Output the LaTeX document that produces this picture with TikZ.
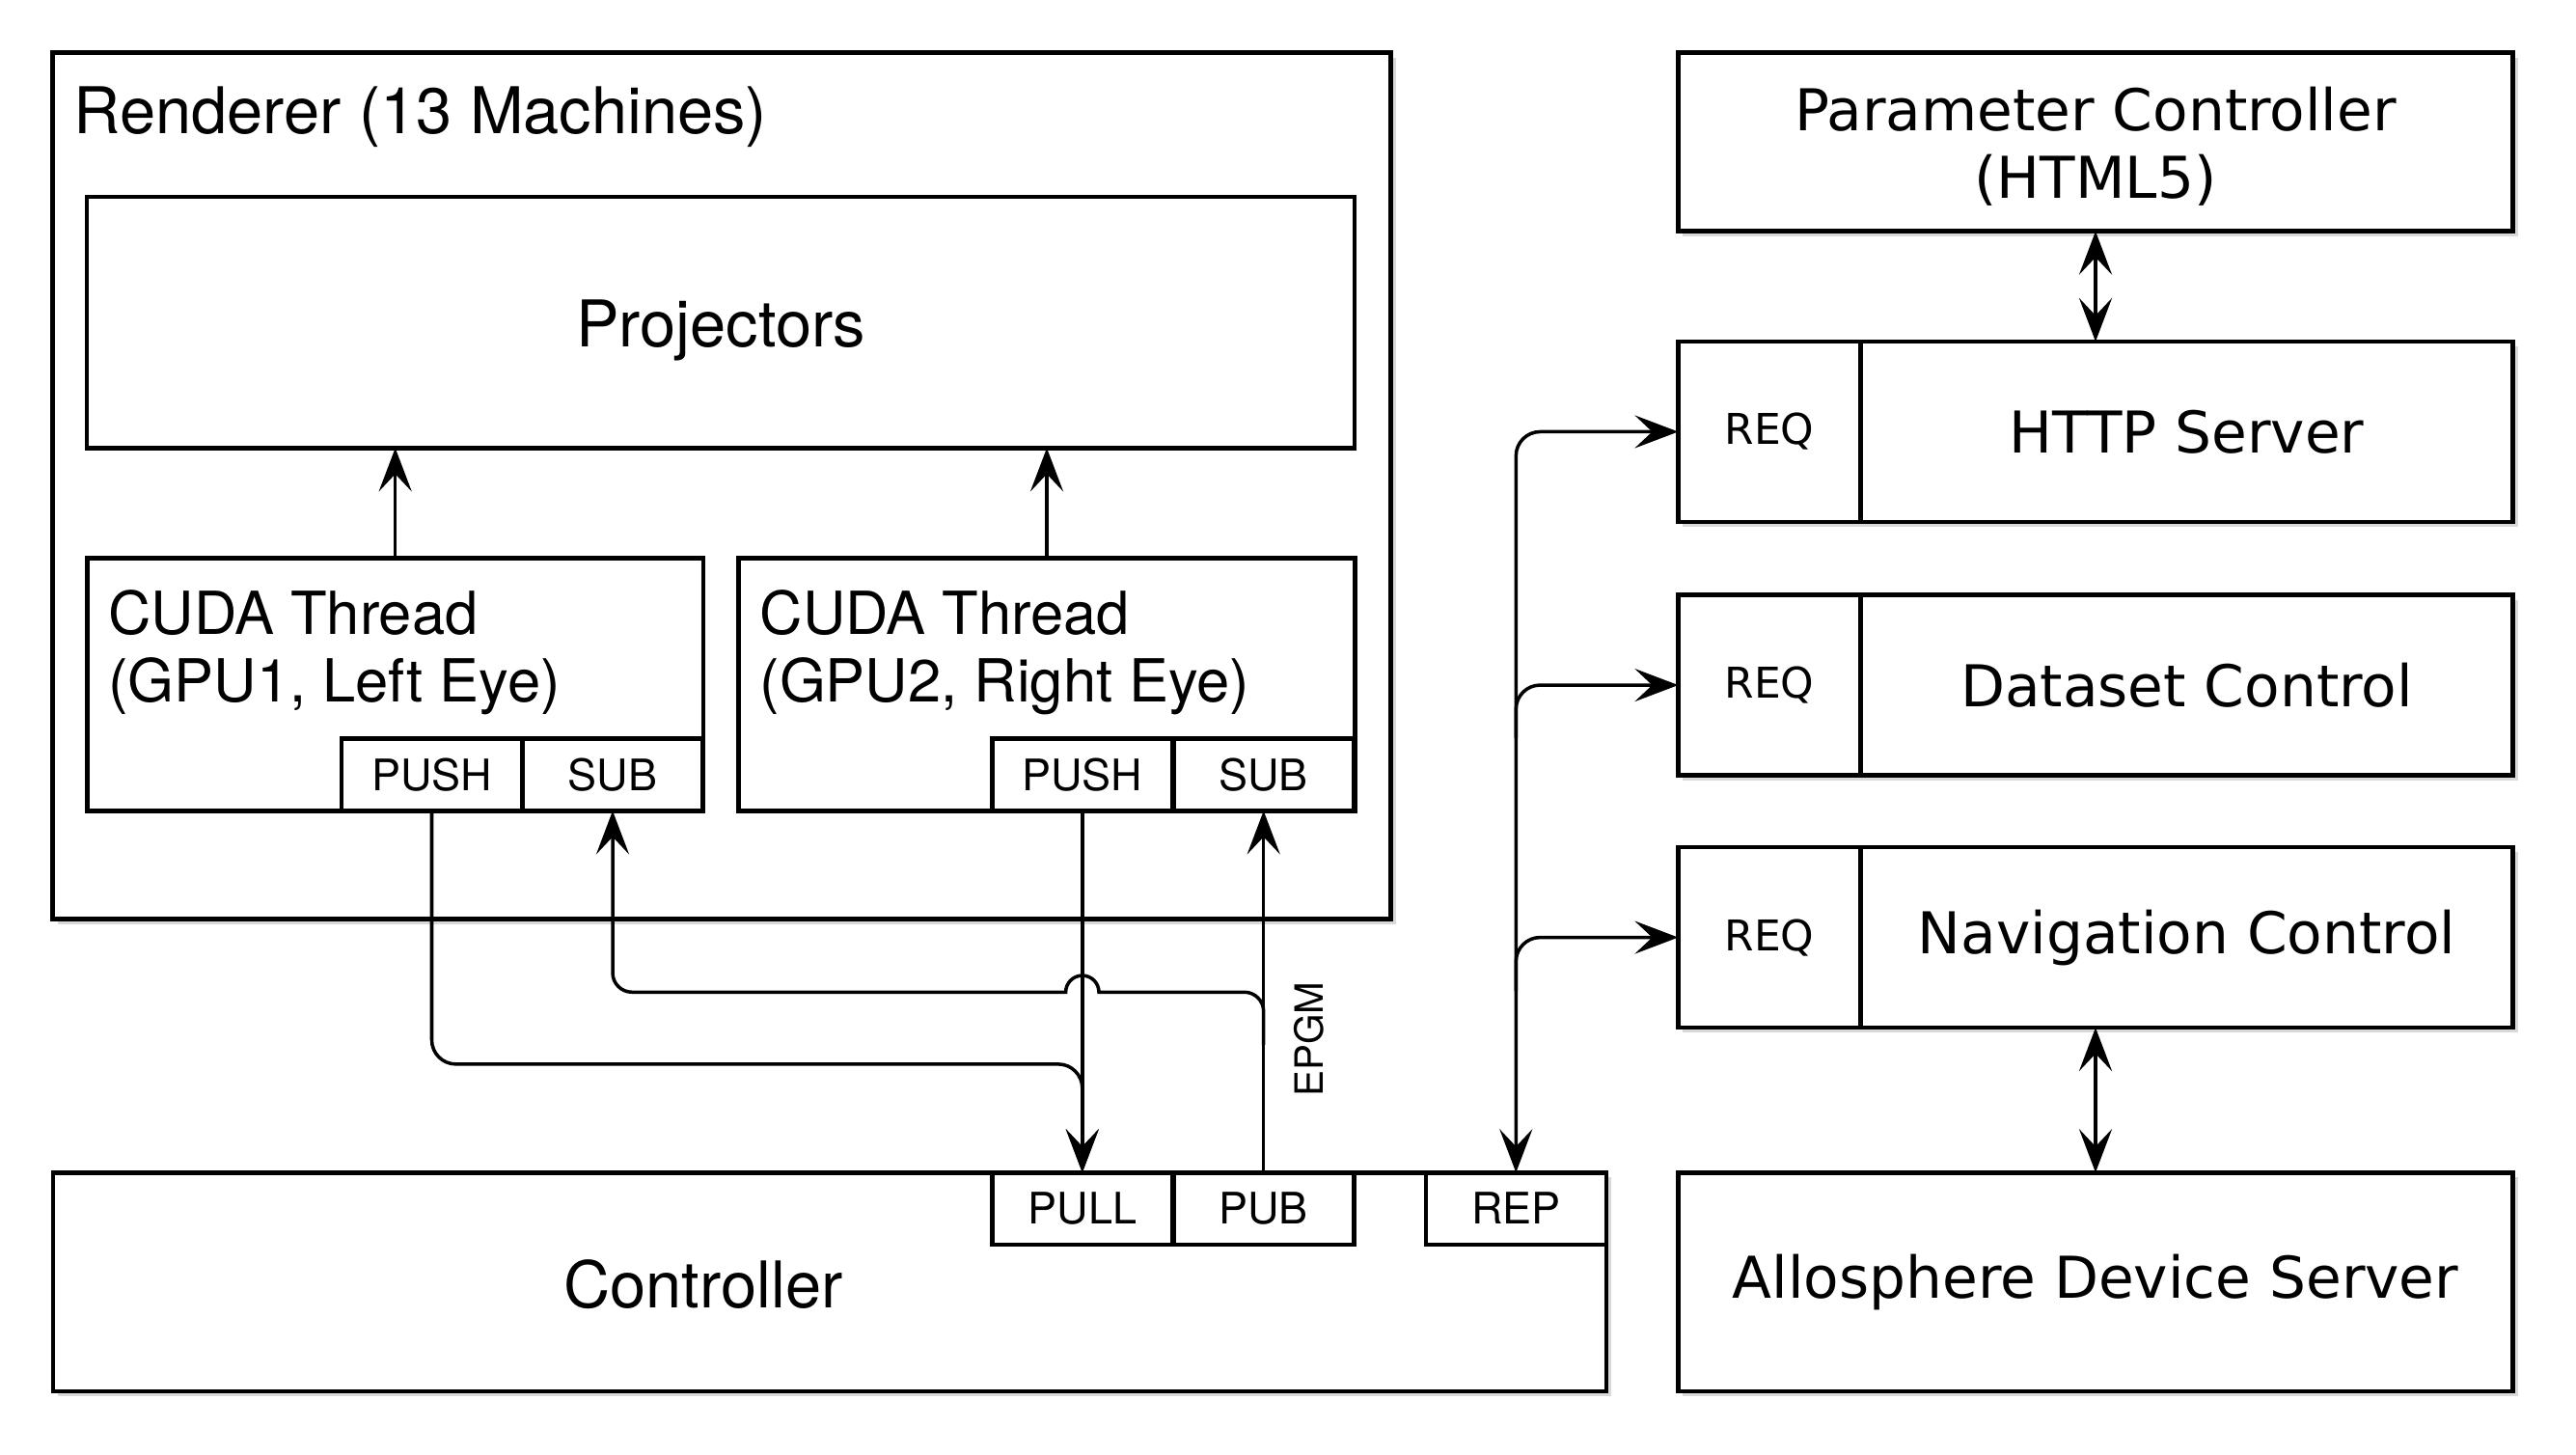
\documentclass[tikz,border=0pt]{standalone}
\usepackage{fontspec}
\setmainfont{TeX Gyre Heros}
\newfontfamily\lucida{DejaVu Sans}
\usetikzlibrary{arrows.meta,shadows}

\begin{document}
\begin{tikzpicture}[>={Stealth[length=0.45cm,width=0.34cm,inset=0.18cm]},
  every node/.style={inner sep=0pt, outer sep=0pt},
  box/.style={draw, rectangle, line width=1.3pt, fill=white},
  shbox/.style={box, drop shadow={shadow xshift=0.05cm, shadow yshift=-0.05cm, opacity=0.3}},
  port/.style={box, minimum width=1.87cm, minimum height=0.746cm, font=\fontsize{12.8}{14}\selectfont},
  req/.style={shbox, minimum width=1.889cm, minimum height=1.87cm, font=\lucida\fontsize{12.5}{14}\selectfont},
  big/.style={font=\fontsize{19}{20}\selectfont},
  mid/.style={font=\fontsize{17.5}{20}\selectfont, align=left, anchor=west},
  rbig/.style={font=\lucida\fontsize{17}{20}\selectfont, align=center},
  link/.style={line width=1pt}]
\useasboundingbox (0,0) rectangle (26.70,15.08);

\node[shbox, minimum width=13.87cm, minimum height=8.98cm] (ren) at (7.48,10.043) {};
\node[big, anchor=west] (renlbl) at (0.766,13.87) {Renderer (13 Machines)};
\node[box, minimum width=13.14cm, minimum height=2.605cm] (proj) at (7.471,11.739) {};
\node[big] (projlbl) at (7.471,11.66) {Projectors};
\node[box, minimum width=6.385cm, minimum height=2.616cm] (cudaA) at (4.097,7.984) {};
\node[box, minimum width=6.385cm, minimum height=2.616cm] (cudaB) at (10.85,7.984) {};
\node[mid] (cudaAlbl) at (1.124,8.317) {CUDA Thread\\(GPU1, Left Eye)};
\node[mid] (cudaBlbl) at (7.876,8.317) {CUDA Thread\\(GPU2, Right Eye)};
\node[port] (pushA) at (4.475,7.049) {PUSH};
\node[port] (subA) at (6.35,7.049) {SUB};
\node[port] (pushB) at (11.218,7.049) {PUSH};
\node[port] (subB) at (13.097,7.049) {SUB};

\node[shbox, minimum width=16.10cm, minimum height=2.267cm] (ctrl) at (8.598,1.794) {};
\node[big] (ctrllbl) at (7.29,1.77) {Controller};
\node[port] (pull) at (11.218,2.554) {PULL};
\node[port] (pub) at (13.097,2.554) {PUB};
\node[port] (rep) at (15.713,2.554) {REP};

\node[shbox, minimum width=8.652cm, minimum height=1.85cm] (param) at (21.72,13.608) {};
\node[rbig] (paramlbl) at (21.72,13.56) {Parameter Controller\\(HTML5)};
\node[req] (reqA) at (18.339,10.605) {REQ};
\node[shbox, rbig, minimum width=6.763cm, minimum height=1.87cm] (http) at (22.665,10.605) {HTTP Server};
\node[req] (reqB) at (18.339,7.979) {REQ};
\node[shbox, rbig, minimum width=6.763cm, minimum height=1.87cm] (data) at (22.665,7.979) {Dataset Control};
\node[req] (reqC) at (18.339,5.364) {REQ};
\node[shbox, rbig, minimum width=6.763cm, minimum height=1.87cm] (nav) at (22.665,5.364) {Navigation Control};
\node[shbox, rbig, minimum width=8.652cm, minimum height=2.267cm] (allo) at (21.72,1.794) {Allosphere Device Server};

\coordinate (pullbend) at (11.218,4.051);
\coordinate (subbend) at (13.097,4.25);
\coordinate (subturn) at (13.097,4.597);
\coordinate (hopR) at (11.39,4.797);
\coordinate (subleft) at (6.55,4.797);
\coordinate (repB) at (15.713,7.43);
\coordinate (repC) at (15.713,4.81);

\draw[link,->] (cudaA.north) -- (cudaA.north |- proj.south);
\draw[link,->] (cudaB.north) -- (cudaB.north |- proj.south);
\draw[link,->,rounded corners=0.25cm] (pushA.south) |- (pullbend) -- (pull.north);
\draw[link,->] (pushB.south) -- (pull.north);
\draw[link,->] (pub.north) -- (subB.south);
\draw[link,->] (subbend) -- (subturn) arc[start angle=0, end angle=90, radius=0.2] -- (hopR) arc[start angle=0, end angle=180, radius=0.172] -- (subleft) arc[start angle=270, end angle=180, radius=0.2] -- (subA.south);
\node[font=\fontsize{11.5}{13}\selectfont, rotate=90] (epgm) at (13.565,4.31) {EPGM};

\draw[link,<->,rounded corners=0.25cm] (reqA.west) -| (rep.north);
\draw[link,->,rounded corners=0.25cm] (repB) |- (reqB.west);
\draw[link,->,rounded corners=0.25cm] (repC) |- (reqC.west);
\draw[link,<->] (param.south) -- (param.south |- http.north);
\draw[link,<->] (allo.north) -- (allo.north |- nav.south);
\end{tikzpicture}
\end{document}
